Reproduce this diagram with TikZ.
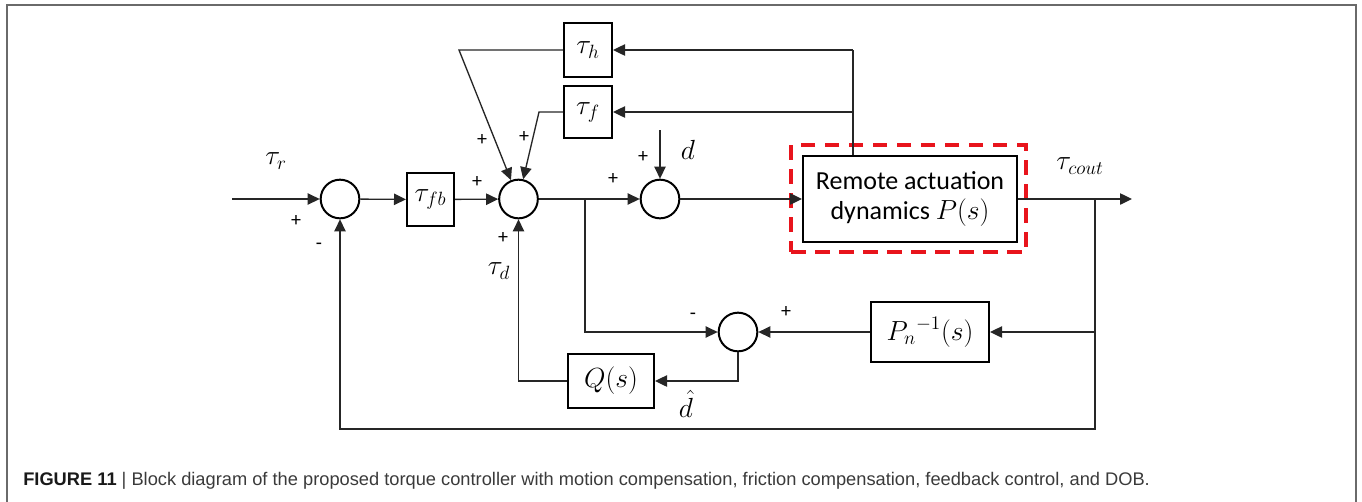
\documentclass[tikz,border=0pt]{standalone}
\usepackage{fontspec}
\setmainfont{Carlito}
\newfontfamily\capfont{Liberation Sans}
\usetikzlibrary{arrows.meta}
\definecolor{framegray}{HTML}{6A6A6A}
\definecolor{capgray}{HTML}{3A3A3A}
\definecolor{dashred}{HTML}{E8141C}
\begin{document}
\begin{tikzpicture}[x=0.75pt,y=-0.75pt,
  conn/.style={line width=1pt, draw=black!85},
  arr/.style={conn, -{Triangle[length=9pt,width=8.5pt]}},
  blk/.style={draw, line width=1.5pt, inner sep=0pt, font=\fontsize{21}{24}\selectfont},
  sumc/.style={draw, circle, line width=1.5pt, minimum size=29pt, inner sep=0pt},
  pm/.style={font=\fontsize{15}{17}\selectfont, inner sep=0pt},
  lbl/.style={font=\fontsize{21}{24}\selectfont, inner sep=0pt}]
\useasboundingbox (0,0) rectangle (1362,501);
% frame
\draw[framegray, line width=1.5pt] (7,503) -- (7,5) -- (1356,5) -- (1356,503);

% blocks and summing junctions
\node[sumc] (s1) at (340,199) {};
\node[blk, minimum width=35.25pt, minimum height=39.75pt] (fb) at (430.5,199.5) {$\tau_{fb}$};
\node[sumc] (s2) at (518.5,199) {};
\node[sumc] (s3) at (660,199) {};
\node[blk, minimum width=160.5pt, minimum height=64.5pt, align=center, font=\fontsize{19.5}{23}\selectfont] (P) at (910,199) {Remote actuation\\dynamics {\fontsize{21}{23}\selectfont$P(s)$}};
\node[draw=dashred, line width=2.6pt, dash pattern=on 11pt off 7pt, minimum width=176pt, minimum height=80pt, inner sep=0pt] (rb) at (908.5,198.5) {};
\node[blk, minimum width=36pt, minimum height=41pt] (th) at (588,50) {$\tau_h$};
\node[blk, minimum width=36pt, minimum height=39pt] (tf) at (588,112) {$\tau_f$};
\node[blk, minimum width=88.5pt, minimum height=45pt] (Pn) at (930,332) {${P_n}^{-1}(s)$};
\node[sumc] (s4) at (738,332) {};
\node[blk, minimum width=64.5pt, minimum height=40.5pt] (Q) at (611,381) {$Q(s)$};

% coordinates
\coordinate (in) at (232,199);
\coordinate (out) at (1132,199);
\coordinate (br1) at (1095,199);
\coordinate (br2) at (585,199);
\coordinate (tr) at (853,50);
\coordinate (fr) at (853,112);
\coordinate (hl) at (459,50);
\coordinate (fl) at (539,112);
\coordinate (dtop) at (660,130);
\coordinate (bot) at (1095,429);
\coordinate (pr) at (1095,332);

% connectors
\draw[arr] (in) -- (s1);
\draw[arr] (s1) -- (fb);
\draw[arr] (fb) -- (s2);
\draw[arr] (s2) -- (s3);
\draw[arr] (s3) -- (P);
\draw[arr] (P) -- (out);
\draw[conn] (P.north -| tr) -- (tr);
\draw[arr] (tr) -- (th);
\draw[arr] (fr) -- (tf);
\draw[arr] (th) -- (hl) -- (s2);
\draw[arr] (tf) -- (fl) -- (s2);
\draw[arr] (dtop) -- (s3);
\draw[arr] (br2) |- (s4);
\draw[arr] (br1) -- (bot) -| (s1);
\draw[arr] (pr) -- (Pn);
\draw[arr] (Pn) -- (s4);
\draw[arr] (s4) |- (Q);
\draw[arr] (Q) -| (s2);

% signs and labels
\node[lbl] (ltr) at (276,161) {$\tau_r$};
\node[pm] (p1) at (296,221) {+};
\node[pm] (m1) at (319,246) {-};
\node[pm] (p2) at (477,182) {+};
\node[pm] (p3) at (482,140) {+};
\node[pm] (p4) at (524,137) {+};
\node[pm] (p5) at (503,238) {+};
\node[lbl] (ltd) at (499,271) {$\tau_d$};
\node[pm] (p6) at (613,179) {+};
\node[pm] (p7) at (643,157) {+};
\node[lbl] (ld) at (688,150) {$d$};
\node[lbl] (ltc) at (1080,166) {$\tau_{cout}$};
\node[pm] (m2) at (693,316) {-};
\node[pm] (p8) at (786,312) {+};
\node[lbl] (ldh) at (686,404) {$\hat{d}$};

% caption
\node[anchor=base west, inner sep=0pt, font=\capfont\fontsize{13.7}{16}\selectfont, text=capgray] (cap) at (23,485)
  {\textbf{\color{black!90}FIGURE 11} | Block diagram of the proposed torque controller with motion compensation, friction compensation, feedback control, and DOB.};
\end{tikzpicture}
\end{document}
